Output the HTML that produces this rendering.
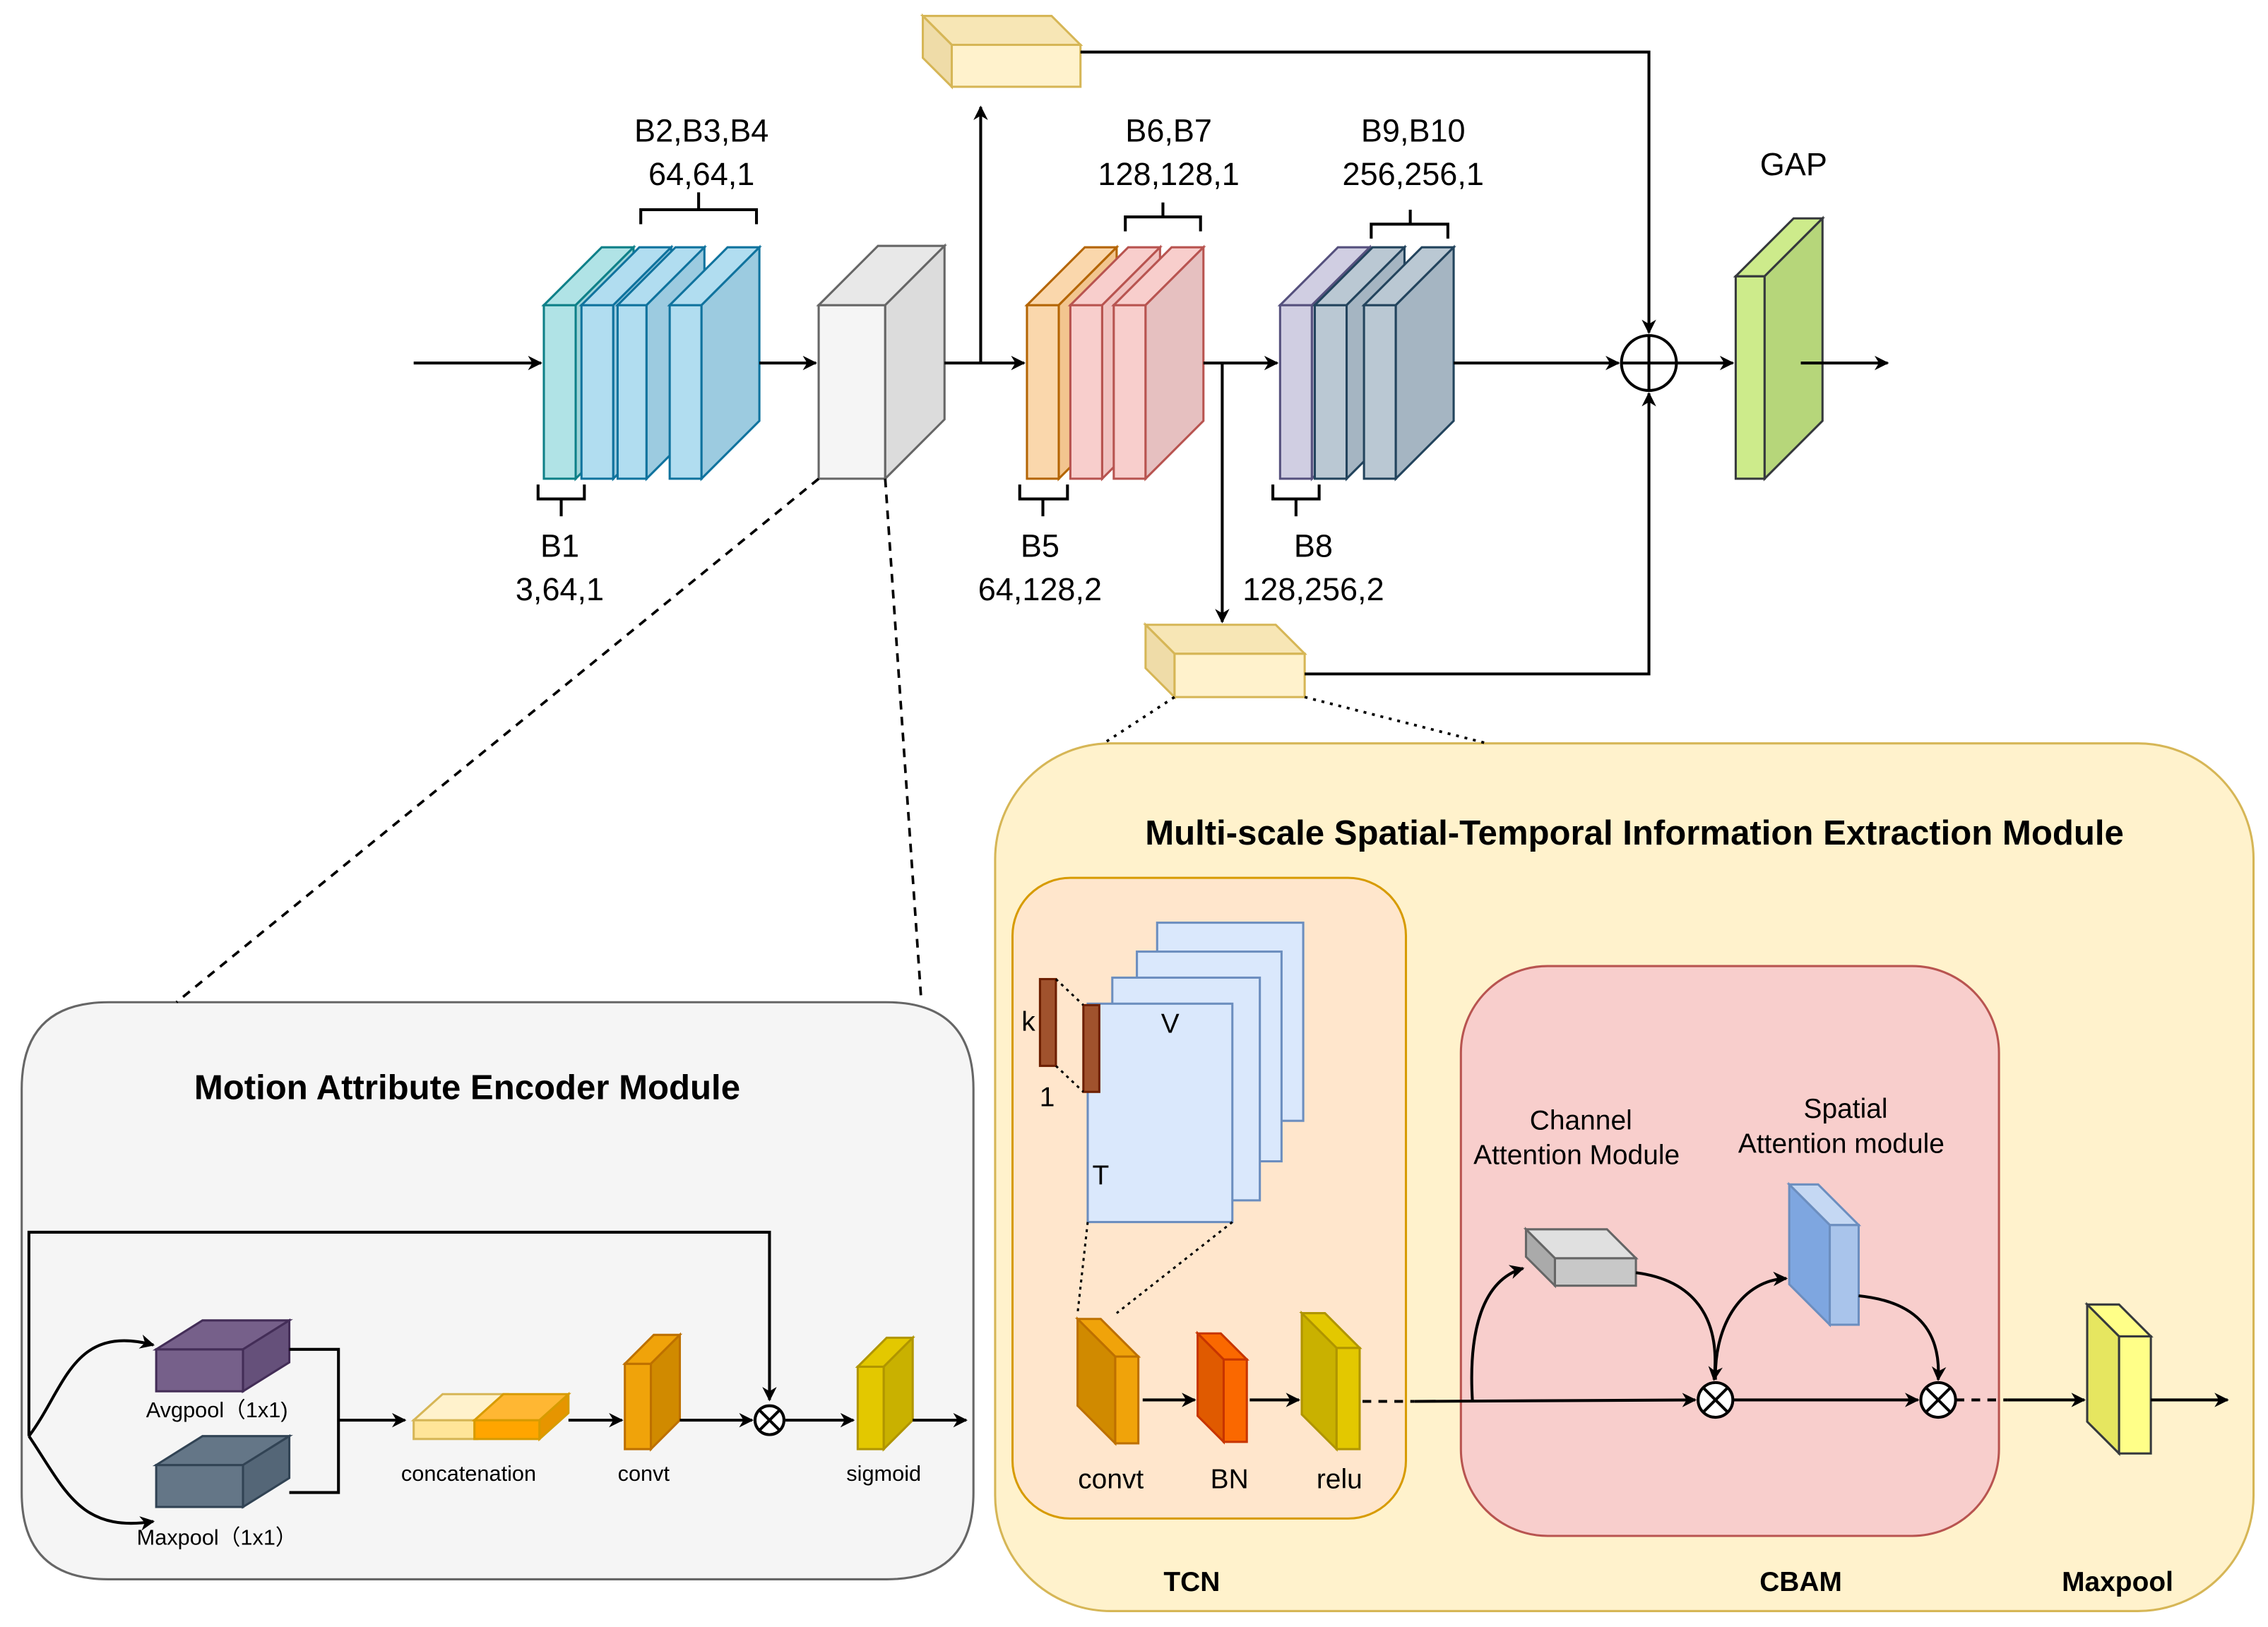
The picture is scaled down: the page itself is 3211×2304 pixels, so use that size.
<!DOCTYPE html>
<html><head><meta charset="utf-8"><style>
html,body{margin:0;padding:0;background:#fff}
svg{display:block}
text{font-family:"Liberation Sans",Arial,sans-serif;fill:#000}
</style></head><body>
<svg width="3211" height="2304" viewBox="0 0 1568 1125" preserveAspectRatio="none" xmlns="http://www.w3.org/2000/svg">
<defs>
<marker id="a" markerWidth="10" markerHeight="10" refX="9" refY="5" orient="auto" markerUnits="userSpaceOnUse"><path d="M0,0 L10,5 L0,10 L3,5 z" fill="#000"/></marker>
</defs>
<rect width="1568" height="1125" fill="#fff"/>

<path d="M75,693 H613 Q673,693 673,753 V1032 Q673,1092 613,1092 H75 Q15,1092 15,1032 V753 Q15,693 75,693 Z" fill="#f5f5f5" stroke="#666" stroke-width="1.5"/>
<rect x="688" y="514" width="870" height="600" rx="80" fill="#fff2cc" stroke="#d6b656" stroke-width="1.5"/>
<rect x="700" y="607" width="272" height="443" rx="40" fill="#ffe6cc" stroke="#d79b00" stroke-width="1.5"/>
<rect x="1010" y="668" width="372" height="394" rx="60" fill="#f8cecc" stroke="#b85450" stroke-width="1.5"/>

<g stroke-width="1.5">
<g fill="#b0e3e6" stroke="#0e8088"><rect x="376" y="211" width="22" height="120"/><polygon points="376,211 416,171 438,171 398,211"/><polygon points="398,211 438,171 438,291 398,331" fill="#9fd4d8"/></g>
<g fill="#b1ddf0" stroke="#10739e"><rect x="402" y="211" width="22" height="120"/><polygon points="402,211 442,171 464,171 424,211"/><polygon points="424,211 464,171 464,291 424,331" fill="#9ccbe0"/></g>
<g fill="#b1ddf0" stroke="#10739e"><rect x="427" y="211" width="20" height="120"/><polygon points="427,211 467,171 487,171 447,211"/><polygon points="447,211 487,171 487,291 447,331" fill="#9ccbe0"/></g>
<g fill="#b1ddf0" stroke="#10739e"><rect x="463" y="211" width="22" height="120"/><polygon points="463,211 503,171 525,171 485,211"/><polygon points="485,211 525,171 525,291 485,331" fill="#9ccbe0"/></g>
<g fill="#f5f5f5" stroke="#666"><rect x="566" y="211" width="46" height="120"/><polygon points="566,211 607,170 653,170 612,211" fill="#e8e8e8"/><polygon points="612,211 653,170 653,290 612,331" fill="#dcdcdc"/></g>
<g fill="#fad7ac" stroke="#b46504"><rect x="710" y="211" width="22" height="120"/><polygon points="710,211 750,171 772,171 732,211"/><polygon points="732,211 772,171 772,291 732,331" fill="#f2c58f"/></g>
<g fill="#f8cecc" stroke="#b85450"><rect x="740" y="211" width="22" height="120"/><polygon points="740,211 780,171 802,171 762,211"/><polygon points="762,211 802,171 802,291 762,331" fill="#f0c2c0"/></g>
<g fill="#f8cecc" stroke="#b85450"><rect x="770" y="211" width="22" height="120"/><polygon points="770,211 810,171 832,171 792,211"/><polygon points="792,211 832,171 832,291 792,331" fill="#e6c0c0"/></g>
<g fill="#d0cee2" stroke="#56517e"><rect x="885" y="211" width="22" height="120"/><polygon points="885,211 925,171 947,171 907,211"/><polygon points="907,211 947,171 947,291 907,331" fill="#bbb8d0"/></g>
<g fill="#bac8d3" stroke="#23445d"><rect x="909" y="211" width="22" height="120"/><polygon points="909,211 949,171 971,171 931,211"/><polygon points="931,211 971,171 971,291 931,331" fill="#a5b5c2"/></g>
<g fill="#bac8d3" stroke="#23445d"><rect x="943" y="211" width="22" height="120"/><polygon points="943,211 983,171 1005,171 965,211"/><polygon points="965,211 1005,171 1005,291 965,331" fill="#a5b5c2"/></g>
<g fill="#cdeb8b" stroke="#36393d"><rect x="1200" y="191" width="20" height="140"/><polygon points="1200,191 1240,151 1260,151 1220,191"/><polygon points="1220,191 1260,151 1260,291 1220,331" fill="#b6d67a"/></g>
<g fill="#fff2cc" stroke="#d6b656"><rect x="658" y="31" width="89" height="29"/><polygon points="638,11 727,11 747,31 658,31" fill="#f7e6b5"/><polygon points="638,11 658,31 658,60 638,40" fill="#efdca8"/></g>
<g fill="#fff2cc" stroke="#d6b656"><rect x="812" y="452" width="90" height="30"/><polygon points="792,432 882,432 902,452 812,452" fill="#f7e6b5"/><polygon points="792,432 812,452 812,482 792,462" fill="#efdca8"/></g>
</g>

<g stroke="#000" stroke-width="2" fill="none">
<line x1="286" y1="251" x2="374" y2="251" marker-end="url(#a)"/>
<line x1="525" y1="251" x2="564" y2="251" marker-end="url(#a)"/>
<line x1="653" y1="251" x2="708" y2="251" marker-end="url(#a)"/>
<line x1="678" y1="251" x2="678" y2="74" marker-end="url(#a)"/>
<line x1="832" y1="251" x2="883" y2="251" marker-end="url(#a)"/>
<line x1="845" y1="251" x2="845" y2="430" marker-end="url(#a)"/>
<line x1="1005" y1="251" x2="1119" y2="251" marker-end="url(#a)"/>
<polyline points="747,36 1140,36 1140,230" marker-end="url(#a)"/>
<polyline points="902,466 1140,466 1140,272" marker-end="url(#a)"/>
<line x1="1159" y1="251" x2="1198" y2="251" marker-end="url(#a)"/>
<line x1="1245" y1="251" x2="1305" y2="251" marker-end="url(#a)"/>
<circle cx="1140" cy="251" r="19" fill="#fff"/>
<line x1="1121" y1="251" x2="1159" y2="251"/><line x1="1140" y1="232" x2="1140" y2="270"/>
<polyline points="443,155 443,145 523,145 523,155"/><line x1="483" y1="145" x2="483" y2="133"/>
<polyline points="778,160 778,150 830,150 830,160"/><line x1="804" y1="150" x2="804" y2="140"/>
<polyline points="948,165 948,155 1001,155 1001,165"/><line x1="975" y1="155" x2="975" y2="145"/>
<polyline points="372,335 372,345 404,345 404,335"/><line x1="388" y1="345" x2="388" y2="357"/>
<polyline points="705,335 705,345 738,345 738,335"/><line x1="721" y1="345" x2="721" y2="357"/>
<polyline points="880,335 880,345 912,345 912,335"/><line x1="896" y1="345" x2="896" y2="357"/>
</g>
<g stroke="#000" stroke-width="1.8" fill="none">
<line x1="566" y1="331" x2="122" y2="693" stroke-dasharray="6,5"/>
<line x1="612" y1="331" x2="637" y2="693" stroke-dasharray="6,5"/>
<line x1="812" y1="482" x2="763" y2="514" stroke-dasharray="2,4"/>
<line x1="902" y1="482" x2="1028" y2="514" stroke-dasharray="2,4"/>
</g>
<g font-size="22" text-anchor="middle">
<text x="485" y="98">B2,B3,B4</text><text x="485" y="128">64,64,1</text>
<text x="808" y="98">B6,B7</text><text x="808" y="128">128,128,1</text>
<text x="977" y="98">B9,B10</text><text x="977" y="128">256,256,1</text>
<text x="1240" y="121">GAP</text>
<text x="387" y="385">B1</text><text x="387" y="415">3,64,1</text>
<text x="719" y="385">B5</text><text x="719" y="415">64,128,2</text>
<text x="908" y="385">B8</text><text x="908" y="415">128,256,2</text>
</g>

<text x="323" y="760" font-size="24" font-weight="bold" text-anchor="middle">Motion Attribute Encoder Module</text>
<g stroke-width="1.5">
<g fill="#76608a" stroke="#432d57"><rect x="108" y="933" width="60" height="29"/><polygon points="108,933 140,913 200,913 168,933"/><polygon points="168,933 200,913 200,942 168,962" fill="#65507a"/></g>
<g fill="#647687" stroke="#314354"><rect x="108" y="1013" width="60" height="29"/><polygon points="108,1013 140,993 200,993 168,1013"/><polygon points="168,1013 200,993 200,1022 168,1042" fill="#546677"/></g>
<g fill="#ffe599" stroke="#d6b656"><rect x="286" y="982" width="44" height="13"/><polygon points="286,982 306,964 350,964 330,982" fill="#fff2cc"/></g>
<g fill="#ffa500" stroke="#d79b00"><rect x="328" y="982" width="45" height="13"/><polygon points="328,982 348,964 393,964 373,982" fill="#ffb733"/><polygon points="373,982 393,964 393,977 373,995" fill="#e69500"/></g>
<g fill="#f0a30a" stroke="#bd7000"><rect x="432" y="943" width="18" height="59"/><polygon points="432,943 452,923 470,923 450,943"/><polygon points="450,943 470,923 470,982 450,1002" fill="#d08a00"/></g>
<g fill="#e3c800" stroke="#b09500"><rect x="593" y="945" width="18" height="57"/><polygon points="593,945 613,925 631,925 611,945"/><polygon points="611,945 631,925 631,982 611,1002" fill="#c9b100"/></g>
</g>
<g stroke="#000" stroke-width="2" fill="none">
<polyline points="20,993 20,852 532,852 532,968" marker-end="url(#a)"/>
<path d="M20,993 C45,960 50,915 106,930" marker-end="url(#a)"/>
<path d="M20,993 C45,1030 55,1060 106,1052" marker-end="url(#a)"/>
<polyline points="200,933 234,933 234,1032 200,1032"/>
<line x1="234" y1="982" x2="280" y2="982" marker-end="url(#a)"/>
<line x1="393" y1="982" x2="430" y2="982" marker-end="url(#a)"/>
<line x1="470" y1="982" x2="520" y2="982" marker-end="url(#a)"/>
<line x1="543" y1="982" x2="590" y2="982" marker-end="url(#a)"/>
<line x1="631" y1="982" x2="668" y2="982" marker-end="url(#a)"/>
<circle cx="532" cy="982" r="10" fill="#fff"/>
<line x1="525" y1="975" x2="539" y2="989"/><line x1="539" y1="975" x2="525" y2="989"/>
</g>
<g font-size="15" text-anchor="middle">
<text x="150" y="980">Avgpool（1x1)</text><text x="150" y="1068">Maxpool（1x1）</text>
<text x="324" y="1024">concatenation</text><text x="445" y="1024">convt</text><text x="611" y="1024">sigmoid</text>
</g>

<text x="1130" y="584" font-size="24" font-weight="bold" text-anchor="middle">Multi-scale Spatial-Temporal Information Extraction Module</text>
<g fill="#dae8fc" stroke="#6c8ebf" stroke-width="1.5">
<rect x="800" y="638" width="101" height="137"/>
<rect x="786" y="658" width="100" height="145"/>
<rect x="769" y="676" width="102" height="154"/>
<rect x="752" y="694" width="100" height="151"/>
</g>
<g fill="#a0522d" stroke="#6d1f00" stroke-width="1.5"><rect x="719" y="677" width="11" height="60"/><rect x="749" y="695" width="11" height="60"/></g>
<g stroke="#000" stroke-width="1.5" stroke-dasharray="2,3" fill="none">
<line x1="730" y1="677" x2="749" y2="695"/><line x1="730" y1="737" x2="749" y2="755"/>
<line x1="752" y1="845" x2="745" y2="908"/><line x1="852" y1="845" x2="772" y2="908"/>
</g>
<g font-size="19" text-anchor="middle"><text x="809" y="714">V</text><text x="761" y="819">T</text><text x="711" y="713">k</text><text x="724" y="765">1</text></g>
<g stroke-width="1.5">
<g fill="#f0a30a" stroke="#bd7000"><rect x="771" y="938" width="16" height="60"/><polygon points="745,912 761,912 787,938 771,938"/><polygon points="745,912 771,938 771,998 745,972" fill="#d08a00"/></g>
<g fill="#fa6800" stroke="#c73500"><rect x="846" y="940" width="16" height="57"/><polygon points="828,922 844,922 862,940 846,940"/><polygon points="828,922 846,940 846,997 828,979" fill="#e05a00"/></g>
<g fill="#e3c800" stroke="#b09500"><rect x="924" y="932" width="16" height="70"/><polygon points="900,908 916,908 940,932 924,932"/><polygon points="900,908 924,932 924,1002 900,978" fill="#c9b100"/></g>
<g fill="#f5f5f5" stroke="#666"><rect x="1075" y="870" width="56" height="19" fill="#c8c8c8"/><polygon points="1055,850 1111,850 1131,870 1075,870" fill="#e0e0e0"/><polygon points="1055,850 1075,870 1075,889 1055,869" fill="#aaa"/></g>
<g fill="#a9c4eb" stroke="#6c8ebf"><rect x="1265" y="847" width="20" height="69"/><polygon points="1237,819 1257,819 1285,847 1265,847" fill="#c5d8f3"/><polygon points="1237,819 1265,847 1265,916 1237,888" fill="#7ea6e0"/></g>
<g fill="#ffff88" stroke="#36393d"><rect x="1465" y="924" width="22" height="81"/><polygon points="1443,902 1465,902 1487,924 1465,924"/><polygon points="1443,902 1465,924 1465,1005 1443,983" fill="#e6e660"/></g>
</g>
<g stroke="#000" stroke-width="2" fill="none">
<line x1="790" y1="968" x2="826" y2="968" marker-end="url(#a)"/>
<line x1="864" y1="968" x2="898" y2="968" marker-end="url(#a)"/>
<line x1="942" y1="969" x2="978" y2="969" stroke-dasharray="6,5"/>
<line x1="978" y1="969" x2="1172" y2="968" marker-end="url(#a)"/>
<line x1="1198" y1="968" x2="1326" y2="968" marker-end="url(#a)"/>
<line x1="1352" y1="968" x2="1388" y2="968" stroke-dasharray="6,5"/>
<line x1="1388" y1="968" x2="1441" y2="968" marker-end="url(#a)"/>
<line x1="1487" y1="968" x2="1540" y2="968" marker-end="url(#a)"/>
<path d="M1018,969 C1015,920 1025,885 1053,877" marker-end="url(#a)"/>
<path d="M1131,880 C1170,885 1190,910 1185,954" marker-end="url(#a)"/>
<path d="M1186,954 C1185,915 1205,885 1235,884" marker-end="url(#a)"/>
<path d="M1285,896 C1325,900 1342,920 1340,954" marker-end="url(#a)"/>
<circle cx="1186" cy="968" r="12" fill="#fff"/>
<line x1="1178" y1="960" x2="1194" y2="976"/><line x1="1194" y1="960" x2="1178" y2="976"/>
<circle cx="1340" cy="968" r="12" fill="#fff"/>
<line x1="1332" y1="960" x2="1348" y2="976"/><line x1="1348" y1="960" x2="1332" y2="976"/>
</g>
<g font-size="19" text-anchor="middle">
<text x="768" y="1029">convt</text><text x="850" y="1029">BN</text><text x="926" y="1029">relu</text>
<text x="1093" y="781">Channel</text><text x="1090" y="805">Attention  Module</text>
<text x="1276" y="773">Spatial</text><text x="1273" y="797">Attention module</text>
</g>
<g font-size="19" font-weight="bold" text-anchor="middle">
<text x="824" y="1100">TCN</text><text x="1245" y="1100">CBAM</text><text x="1464" y="1100">Maxpool</text>
</g>
</svg>
</body></html>
